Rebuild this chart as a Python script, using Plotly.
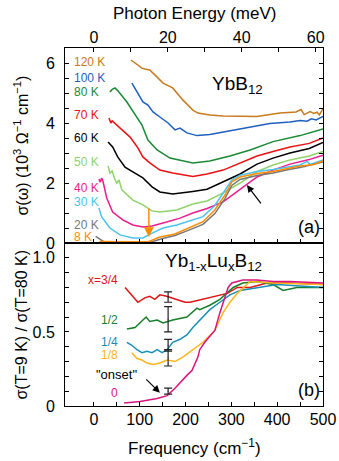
import plotly.graph_objects as go

# ---- panel (a): YbB12 optical conductivity, sigma in 10^3 Ohm^-1 cm^-1 ----
f_120 = [81, 90, 105, 111, 122, 138, 151, 172, 194, 216, 227, 253, 282, 356, 406, 441, 452, 459, 472, 480, 487, 492, 500]
s_120 = [6.10, 6.00, 5.83, 5.80, 5.77, 5.53, 5.33, 5.17, 4.77, 4.43, 4.33, 4.27, 4.23, 4.22, 4.33, 4.37, 4.45, 4.28, 4.38, 4.32, 4.36, 4.27, 4.48]

f_100 = [83, 94, 107, 118, 129, 144, 162, 177, 188, 203, 225, 253, 297, 341, 384, 428, 450, 465, 475, 485, 500]
s_100 = [5.33, 5.03, 4.70, 4.60, 4.37, 4.20, 4.00, 3.77, 3.83, 3.67, 3.58, 3.62, 3.74, 3.86, 3.98, 4.03, 4.08, 4.06, 4.14, 4.10, 4.22]

f_80 = [35, 40, 46, 52, 72, 94, 105, 118, 138, 166, 216, 253, 297, 341, 391, 450, 500]
s_80 = [5.03, 5.12, 5.17, 5.08, 4.70, 4.20, 3.93, 3.43, 3.10, 2.83, 2.67, 2.73, 2.90, 3.10, 3.38, 3.58, 3.80]

f_70 = [33, 35, 37, 40, 50, 68, 79, 90, 96, 107, 122, 144, 172, 216, 247, 282, 319, 356, 391, 428, 470, 500]
s_70 = [4.17, 4.05, 4.00, 4.07, 3.93, 3.67, 3.53, 3.30, 3.17, 2.87, 2.67, 2.43, 2.33, 2.22, 2.30, 2.43, 2.67, 2.90, 3.05, 3.20, 3.32, 3.50]

f_60 = [31, 41, 52, 68, 85, 107, 127, 144, 172, 199, 216, 247, 282, 319, 356, 391, 428, 470, 500]
s_60 = [3.37, 3.20, 2.87, 2.53, 2.37, 2.17, 1.87, 1.70, 1.63, 1.67, 1.72, 1.79, 2.03, 2.30, 2.63, 2.83, 3.00, 3.15, 3.35]

f_50 = [31, 35, 40, 45, 50, 55, 61, 72, 85, 107, 127, 144, 181, 216, 247, 282, 319, 356, 391, 428, 470, 500]
s_50 = [2.57, 2.33, 2.40, 2.15, 2.00, 2.10, 1.77, 1.60, 1.43, 1.27, 1.07, 1.03, 1.10, 1.30, 1.40, 1.67, 2.00, 2.38, 2.60, 2.77, 2.90, 3.05]

f_40 = [11, 14, 17, 20, 28, 41, 63, 85, 107, 127, 159, 188, 216, 247, 282, 319, 356, 391, 428, 470, 500]
s_40 = [2.13, 2.03, 2.17, 2.05, 1.50, 1.03, 0.77, 0.60, 0.53, 0.57, 0.70, 0.83, 1.00, 1.15, 1.37, 1.77, 2.20, 2.43, 2.63, 2.78, 2.93]

f_30 = [11, 17, 35, 57, 85, 107, 127, 151, 181, 216, 238, 264, 286, 301, 319, 356, 391, 428, 450, 465, 472, 500]
s_30 = [1.17, 0.87, 0.50, 0.27, 0.17, 0.17, 0.33, 0.50, 0.60, 0.77, 0.88, 1.25, 1.75, 2.10, 2.26, 2.38, 2.45, 2.55, 2.60, 2.72, 2.62, 2.77]

f_20 = [4, 13, 24, 40, 80, 120, 150, 177, 199, 210, 238, 264, 286, 301, 319, 356, 391, 428, 450, 500]
s_20 = [0.22, 0.12, 0.02, 0.0, 0.0, 0.01, 0.15, 0.25, 0.38, 0.45, 0.62, 0.98, 1.48, 1.92, 2.12, 2.25, 2.33, 2.46, 2.52, 2.70]

f_8 = [12, 40, 80, 120, 144, 177, 199, 210, 238, 264, 286, 301, 319, 356, 391, 428, 450, 480, 500]
s_8 = [0.05, 0.04, 0.04, 0.05, 0.20, 0.30, 0.45, 0.53, 0.71, 1.10, 1.60, 2.04, 2.20, 2.32, 2.38, 2.50, 2.57, 2.62, 2.74]

temps = ["120 K", "100 K", "80 K", "70 K", "60 K", "50 K", "40 K", "30 K", "20 K", "8 K"]
temp_label_y = [6.03, 5.5, 5.03, 4.27, 3.5, 2.7, 1.83, 1.37, 0.6, 0.2]
temp_colors = ["#c87a1e", "#1f5fbf", "#1a8a35", "#ee1111", "#000000",
               "#8ed46a", "#ec1c8c", "#4cc3ee", "#777777", "#ff8c00"]
top_f = [f_120, f_100, f_80, f_70, f_60, f_50, f_40, f_30, f_20, f_8]
top_s = [s_120, s_100, s_80, s_70, s_60, s_50, s_40, s_30, s_20, s_8]

# ---- panel (b): Yb1-xLuxB12 ratio sigma(9 K)/sigma(80 K) ----
fb_34 = [68, 83, 96, 111, 122, 133, 144, 159, 177, 199, 210, 238, 269, 291, 313, 341, 378, 428, 500]
rb_34 = [0.80, 0.75, 0.70, 0.73, 0.74, 0.72, 0.75, 0.74, 0.72, 0.70, 0.70, 0.72, 0.74, 0.76, 0.80, 0.80, 0.83, 0.83, 0.82]

fb_12 = [72, 90, 107, 114, 122, 138, 151, 172, 203, 225, 231, 253, 275, 290, 304, 325, 356, 391, 413, 443, 500]
rb_12 = [0.52, 0.53, 0.58, 0.60, 0.57, 0.58, 0.56, 0.58, 0.60, 0.66, 0.65, 0.68, 0.72, 0.76, 0.80, 0.83, 0.84, 0.82, 0.78, 0.80, 0.80]

fb_14 = [72, 83, 94, 105, 116, 127, 138, 149, 160, 172, 188, 203, 216, 231, 253, 275, 297, 319, 356, 400, 500]
rb_14 = [0.43, 0.41, 0.38, 0.36, 0.37, 0.36, 0.38, 0.36, 0.38, 0.43, 0.45, 0.48, 0.53, 0.58, 0.65, 0.70, 0.75, 0.78, 0.80, 0.82, 0.80]

fb_18 = [83, 94, 105, 116, 129, 144, 160, 177, 194, 216, 238, 264, 282, 297, 313, 341, 391, 500]
rb_18 = [0.36, 0.32, 0.31, 0.29, 0.28, 0.29, 0.31, 0.30, 0.33, 0.38, 0.43, 0.51, 0.63, 0.70, 0.76, 0.84, 0.83, 0.82]

fb_0 = [66, 101, 138, 160, 177, 194, 204, 214, 227, 231, 242, 253, 264, 275, 286, 293, 301, 325, 356, 391, 428, 500]
rb_0 = [0.02, 0.03, 0.05, 0.07, 0.12, 0.18, 0.21, 0.24, 0.33, 0.38, 0.43, 0.47, 0.51, 0.63, 0.74, 0.80, 0.83, 0.85, 0.85, 0.84, 0.84, 0.83]

x_names = ["x=3/4", "1/2", "1/4", "1/8", "0"]
x_label_y = [0.85, 0.58, 0.43, 0.345, 0.09]
x_colors = ["#e01515", "#1a7f2a", "#1a8fb5", "#ffb51c", "#d6157f"]
bot_f = [fb_34, fb_12, fb_14, fb_18, fb_0]
bot_r = [rb_34, rb_12, rb_14, rb_18, rb_0]

err_f = [162, 162, 162, 162, 162]
err_mid = [0.735, 0.585, 0.41, 0.325, 0.10]
err_half = [0.035, 0.085, 0.04, 0.055, 0.02]

MEV_TO_CM = 8.0655
xr = [-63, 500]

fig = go.Figure()
for f, s, c in zip(top_f, top_s, temp_colors):
    fig.add_trace(go.Scatter(x=f, y=s, mode="lines", line=dict(color=c, width=1.5),
                             xaxis="x", yaxis="y", showlegend=False))
for f, r, c in zip(bot_f, bot_r, x_colors):
    fig.add_trace(go.Scatter(x=f, y=r, mode="lines", line=dict(color=c, width=1.5),
                             xaxis="x2", yaxis="y2", showlegend=False))
fig.add_trace(go.Scatter(x=err_f, y=err_mid, mode="markers", marker=dict(size=1, color="#222"),
                         error_y=dict(type="data", array=err_half, color="#222", thickness=1.2, width=4),
                         xaxis="x2", yaxis="y2", showlegend=False))
# dummy trace so the meV axis on top is drawn
fig.add_trace(go.Scatter(x=[0], y=[None], xaxis="x3", yaxis="y", showlegend=False, hoverinfo="skip"))

font = "Arial, Liberation Sans, sans-serif"
ax_common = dict(showline=True, linecolor="black", linewidth=1, ticks="inside", ticklen=4,
                 tickcolor="black", showgrid=False, zeroline=False, automargin=False,
                 tickfont=dict(size=16, color="black", family=font))
split = (406 - 243) / 358

fig.update_layout(
    width=339, height=461,
    margin=dict(l=65, r=16, t=48, b=55),
    paper_bgcolor="white", plot_bgcolor="white",
    xaxis=dict(ax_common, range=xr, anchor="y", domain=[0, 1],
               tickvals=list(range(0, 501, 50)), showticklabels=False),
    xaxis2=dict(ax_common, range=xr, anchor="y2", domain=[0, 1], mirror=True,
                tickvals=list(range(0, 501, 50)), ticklabelstandoff=-1,
                ticktext=[str(v) if v % 100 == 0 else "" for v in range(0, 501, 50)]),
    xaxis3=dict(ax_common, range=[xr[0] / MEV_TO_CM, xr[1] / MEV_TO_CM], overlaying="x",
                side="top", anchor="y", ticklabelstandoff=-2,
                tickvals=list(range(0, 61, 10)),
                ticktext=[str(v) if v % 20 == 0 else "" for v in range(0, 61, 10)]),
    yaxis=dict(ax_common, range=[0, 6.5], domain=[split, 1], anchor="x", mirror="ticks",
               ticklabelstandoff=6,
               tickvals=[v * 0.5 for v in range(0, 13)],
               ticktext=[str(int(v * 0.5)) if v % 4 == 0 else "" for v in range(0, 13)]),
    yaxis2=dict(ax_common, range=[0, 1.1], domain=[0, split], anchor="x2", mirror="ticks",
                ticklabelstandoff=6,
                tickvals=[v / 10 for v in range(0, 11)],
                ticktext=["0", "", "", "", "", "0.5", "", "", "", "", "1.0"]),
)

ann = []
for t, yv, c in zip(temps, temp_label_y, temp_colors):
    ann.append(dict(x=-47, y=yv, xref="x", yref="y", text=t, showarrow=False,
                    xanchor="left", yanchor="middle", font=dict(size=12, color=c, family=font)))
for t, yv, c in zip(x_names, x_label_y, x_colors):
    ann.append(dict(x=58, y=yv, xref="x2", yref="y2", text=t, showarrow=False,
                    xanchor="right", yanchor="middle", font=dict(size=12, color=c, family=font)))
ann += [
    dict(x=50, y=0.21, xref="x2", yref="y2", text='"onset"', showarrow=False,
         xanchor="center", yanchor="middle", font=dict(size=13, color="black", family=font)),
    dict(x=144, y=0.09, ax=111, ay=0.19, xref="x2", yref="y2", axref="x2", ayref="y2",
         text="", showarrow=True, arrowhead=2, arrowsize=1.2, arrowwidth=1.2, arrowcolor="black"),
    dict(x=120, y=0.2, ax=120, ay=1.2, xref="x", yref="y", axref="x", ayref="y",
         text="", showarrow=True, arrowhead=2, arrowsize=1.3, arrowwidth=1.5, arrowcolor="#ff8c00"),
    dict(x=334, y=1.93, ax=367, ay=1.27, xref="x", yref="y", axref="x", ayref="y",
         text="", showarrow=True, arrowhead=2, arrowsize=1.2, arrowwidth=1.2, arrowcolor="black"),
    dict(x=314, y=5.27, xref="x", yref="y", text="YbB<sub>12</sub>", showarrow=False,
         xanchor="center", yanchor="middle", font=dict(size=19, color="black", family=font)),
    dict(x=260, y=0.97, xref="x2", yref="y2", text="Yb<sub>1-x</sub>Lu<sub>x</sub>B<sub>12</sub>",
         showarrow=False, xanchor="center", yanchor="middle",
         font=dict(size=19, color="black", family=font)),
    dict(x=470, y=0.53, xref="x", yref="y", text="(a)", showarrow=False,
         xanchor="center", yanchor="middle", font=dict(size=18, color="black", family=font)),
    dict(x=470, y=0.11, xref="x2", yref="y2", text="(b)", showarrow=False,
         xanchor="center", yanchor="middle", font=dict(size=18, color="black", family=font)),
    dict(x=(194 - 65) / 258, y=(406 - 447) / 358, xref="paper", yref="paper",
         text="Frequency (cm<sup>−1</sup>)", showarrow=False, xanchor="center", yanchor="middle",
         font=dict(size=17, color="black", family=font)),
    dict(x=(194 - 65) / 258, y=(406 - 13) / 358, xref="paper", yref="paper",
         text="Photon Energy (meV)", showarrow=False, xanchor="center", yanchor="middle",
         font=dict(size=17, color="black", family=font)),
    dict(x=(21 - 65) / 258, y=(split + 1) / 2, xref="paper", yref="paper", textangle=-90,
         text="σ(ω) (10<sup>3</sup> Ω<sup>−1</sup> cm<sup>−1</sup>)", showarrow=False,
         xanchor="center", yanchor="middle", font=dict(size=16, color="black", family=font)),
    dict(x=(21 - 65) / 258, y=split / 2, xref="paper", yref="paper", textangle=-90,
         text="σ(T=9 K) / σ(T=80 K)", showarrow=False,
         xanchor="center", yanchor="middle", font=dict(size=16, color="black", family=font)),
]
fig.update_layout(annotations=ann)

# drop the browser's default 8px body margin so the figure fills the window exactly,
# and hide the modebar so it does not cover the top title
fig.write_html("out.html", config={"displayModeBar": False},
               post_script="document.body.style.margin = '0';")
